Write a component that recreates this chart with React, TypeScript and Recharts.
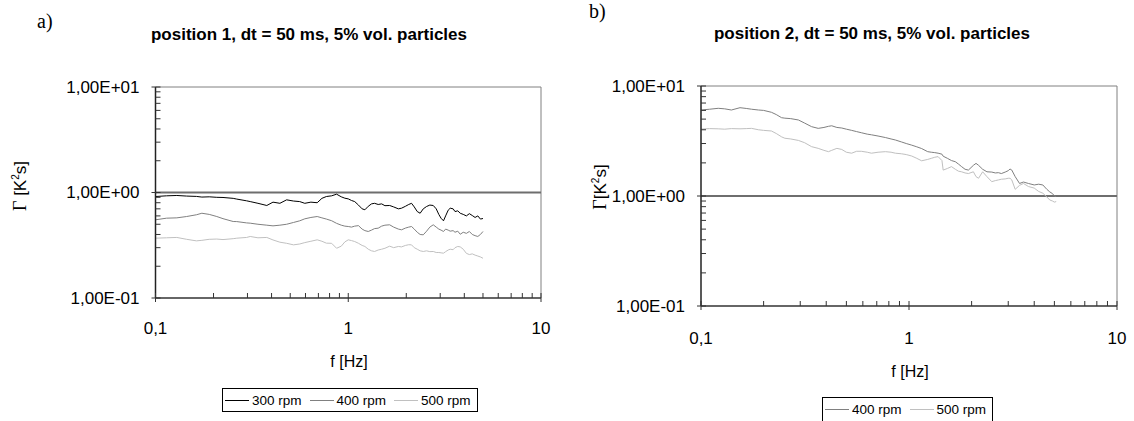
import React from 'react';
import { LineChart, Line, XAxis, YAxis, ReferenceLine } from 'recharts';

// tick values (log axes, decades 0.1..10)
const X_TICKS = [0.1, 0.2, 0.3, 0.4, 0.5, 0.6, 0.7, 0.8, 0.9, 1, 2, 3, 4, 5, 6, 7, 8, 9, 10];
const Y_TICKS = [0.1, 0.2, 0.3, 0.4, 0.5, 0.6, 0.7, 0.8, 0.9, 1, 2, 3, 4, 5, 6, 7, 8, 9, 10];
const X_MAJOR: Record<number, string> = { 0.1: '0,1', 1: '1', 10: '10' };
const Y_MAJOR: Record<number, string> = { 0.1: '1,00E-01', 1: '1,00E+00', 10: '1,00E+01' };

// a) position 1
const L_FREQ = [0.1, 0.114, 0.129, 0.145, 0.163, 0.174, 0.19, 0.208, 0.224, 0.253, 0.264, 0.297, 0.31, 0.34, 0.378, 0.407, 0.442, 0.479, 0.52, 0.56, 0.595, 0.64, 0.69, 0.73, 0.77, 0.82, 0.87, 0.92, 0.96, 1.0, 1.04, 1.08, 1.13, 1.18, 1.22, 1.27, 1.32, 1.37, 1.43, 1.49, 1.55, 1.64, 1.72, 1.82, 1.89, 1.98, 2.06, 2.13, 2.2, 2.28, 2.36, 2.45, 2.55, 2.65, 2.76, 2.86, 2.95, 3.03, 3.12, 3.2, 3.3, 3.38, 3.5, 3.58, 3.7, 3.81, 3.95, 4.1, 4.25, 4.4, 4.55, 4.7, 4.85, 5.0];
const L_300 = [0.916, 0.93, 0.937, 0.925, 0.918, 0.905, 0.91, 0.9, 0.897, 0.88, 0.866, 0.834, 0.82, 0.79, 0.753, 0.81, 0.79, 0.852, 0.83, 0.82, 0.79, 0.81, 0.8, 0.88, 0.916, 0.93, 0.964, 0.91, 0.883, 0.87, 0.84, 0.82, 0.76, 0.7, 0.686, 0.74, 0.78, 0.79, 0.77, 0.78, 0.75, 0.753, 0.73, 0.7, 0.71, 0.74, 0.77, 0.79, 0.73, 0.66, 0.636, 0.7, 0.737, 0.76, 0.753, 0.7, 0.62, 0.57, 0.539, 0.6, 0.68, 0.71, 0.7, 0.66, 0.67, 0.636, 0.62, 0.6, 0.63, 0.605, 0.58, 0.6, 0.56, 0.567];
const L_400 = [0.551, 0.571, 0.575, 0.592, 0.615, 0.636, 0.62, 0.592, 0.565, 0.531, 0.53, 0.515, 0.512, 0.5, 0.49, 0.483, 0.49, 0.5, 0.52, 0.539, 0.563, 0.58, 0.592, 0.575, 0.56, 0.54, 0.51, 0.49, 0.48, 0.476, 0.47, 0.48, 0.485, 0.45, 0.435, 0.427, 0.44, 0.455, 0.459, 0.48, 0.49, 0.494, 0.47, 0.45, 0.443, 0.46, 0.47, 0.476, 0.45, 0.42, 0.4, 0.397, 0.43, 0.47, 0.494, 0.47, 0.45, 0.44, 0.427, 0.45, 0.44, 0.43, 0.435, 0.42, 0.43, 0.402, 0.42, 0.41, 0.427, 0.4, 0.39, 0.383, 0.4, 0.427];
const L_500 = [0.369, 0.372, 0.375, 0.36, 0.348, 0.352, 0.36, 0.362, 0.358, 0.365, 0.369, 0.375, 0.383, 0.372, 0.375, 0.355, 0.338, 0.33, 0.319, 0.325, 0.335, 0.345, 0.356, 0.345, 0.331, 0.33, 0.296, 0.31, 0.34, 0.356, 0.35, 0.343, 0.33, 0.315, 0.308, 0.29, 0.28, 0.276, 0.285, 0.29, 0.296, 0.31, 0.3, 0.308, 0.305, 0.315, 0.32, 0.319, 0.3, 0.29, 0.28, 0.276, 0.28, 0.275, 0.276, 0.27, 0.27, 0.268, 0.266, 0.275, 0.285, 0.29, 0.287, 0.3, 0.308, 0.305, 0.29, 0.265, 0.258, 0.262, 0.255, 0.25, 0.245, 0.238];

// b) position 2
const R_FREQ = [0.1, 0.11, 0.121, 0.13, 0.14, 0.154, 0.165, 0.175, 0.189, 0.2, 0.218, 0.23, 0.244, 0.253, 0.27, 0.294, 0.315, 0.34, 0.366, 0.39, 0.41, 0.425, 0.45, 0.475, 0.5, 0.53, 0.56, 0.59, 0.63, 0.66, 0.71, 0.77, 0.82, 0.86, 0.92, 0.97, 1.03, 1.09, 1.15, 1.23, 1.28, 1.33, 1.38, 1.44, 1.46, 1.53, 1.6, 1.67, 1.73, 1.79, 1.86, 1.93, 2.04, 2.1, 2.16, 2.26, 2.37, 2.5, 2.6, 2.69, 2.78, 2.9, 3.0, 3.06, 3.12, 3.24, 3.4, 3.55, 3.75, 4.0, 4.2, 4.4, 4.6, 4.75, 4.9, 5.0, 5.1];
const R_400 = [6.05, 6.15, 6.27, 6.2, 6.05, 6.35, 6.25, 6.15, 6.05, 6.0, 5.77, 5.5, 5.15, 5.1, 5.05, 4.91, 4.6, 4.27, 4.12, 4.2, 4.3, 4.35, 4.2, 4.15, 4.05, 3.95, 3.85, 3.76, 3.65, 3.6, 3.51, 3.4, 3.3, 3.23, 3.1, 3.0, 2.9, 2.8, 2.7, 2.53, 2.5, 2.48, 2.45, 2.4, 2.3, 2.2, 2.1, 2.05, 1.95, 1.85, 1.75, 1.72, 1.9, 1.98, 1.9, 1.75, 1.66, 1.65, 1.62, 1.63, 1.6, 1.65, 1.7, 1.76, 1.72, 1.5, 1.3, 1.34, 1.3, 1.26, 1.28, 1.26, 1.15, 1.09, 1.05, 1.0, 0.99];
const R_500 = [4.06, 4.1, 4.08, 4.05, 4.1, 4.08, 4.1, 4.12, 4.0, 3.95, 3.9, 3.7, 3.45, 3.35, 3.3, 3.2, 3.05, 2.81, 2.71, 2.6, 2.53, 2.6, 2.71, 2.65, 2.5, 2.45, 2.55, 2.55, 2.5, 2.45, 2.5, 2.53, 2.5, 2.45, 2.42, 2.38, 2.31, 2.2, 2.09, 2.15, 2.2, 2.25, 2.28, 2.1, 1.72, 1.78, 1.85, 1.75, 1.68, 1.66, 1.62, 1.6, 1.66, 1.5, 1.45, 1.66, 1.5, 1.35, 1.38, 1.4, 1.42, 1.43, 1.45, 1.45, 1.4, 1.15, 1.25, 1.3, 1.22, 1.18, 1.1, 1.06, 0.98, 0.92, 0.9, 0.88, 0.89];

const C300 = '#000000';
const C400 = '#808080';
const C500 = '#c0c0c0';
const SANS = "'Liberation Sans', Arial, sans-serif";
const SERIF = "'Liberation Serif', 'Times New Roman', serif";

const leftData = L_FREQ.map((f, i) => ({ f, r300: L_300[i], r400: L_400[i], r500: L_500[i] }));
const rightData = R_FREQ.map((f, i) => ({ f, r400: R_400[i], r500: R_500[i] }));

const XTick = (props: any) => {
  const { x, y, payload, labelGap } = props;
  const v = payload.value;
  const lab = X_MAJOR[v];
  return (
    <g>
      <line x1={x} x2={x} y1={y - 5} y2={lab ? y + 4 : y} stroke="#333" strokeWidth={1} />
      {lab && (
        <text x={x} y={y + labelGap} dy="0.35em" textAnchor="middle" fontSize={17} fontFamily={SANS} fill="#000">
          {lab}
        </text>
      )}
    </g>
  );
};

const YTick = (props: any) => {
  const { x, y, payload } = props;
  const v = payload.value;
  const lab = Y_MAJOR[v];
  return (
    <g>
      <line x1={lab ? x - 4 : x} x2={x + 5} y1={y} y2={y} stroke="#333" strokeWidth={1} />
      {lab && (
        <text x={x - 16} y={y} dy="0.35em" textAnchor="end" fontSize={17} fontFamily={SANS} fill="#000">
          {lab}
        </text>
      )}
    </g>
  );
};

function Panel({ data, series, width, margin, labelGap }: any) {
  return (
    <LineChart width={width} height={421} data={data} margin={margin}>
      <ReferenceLine y={10} stroke="#808080" strokeWidth={1} />
      <ReferenceLine x={10} stroke="#808080" strokeWidth={1} />
      <ReferenceLine y={1} stroke="#6e6e6e" strokeWidth={2} />
      <XAxis
        dataKey="f" type="number" scale="log" domain={[0.1, 10]} allowDataOverflow
        ticks={X_TICKS} interval={0} height={30} tickSize={0} tickMargin={0}
        axisLine={{ stroke: '#333', strokeWidth: 1.5 }} tickLine={false}
        tick={<XTick labelGap={labelGap} />}
      />
      <YAxis
        type="number" scale="log" domain={[0.1, 10]} allowDataOverflow
        ticks={Y_TICKS} interval={0} width={100} tickSize={0} tickMargin={0}
        axisLine={{ stroke: '#222', strokeWidth: 1.5 }} tickLine={false}
        tick={<YTick />}
      />
      {series.map((s: any) => (
        <Line key={s.key} dataKey={s.key} stroke={s.color} strokeWidth={1} dot={false}
          type="linear" isAnimationActive={false} />
      ))}
    </LineChart>
  );
}

const abs = (left: number, top: number, extra: React.CSSProperties = {}): React.CSSProperties => ({
  position: 'absolute', left, top, ...extra,
});

function YLabel({ cx, cy, gap }: { cx: number; cy: number; gap: boolean }) {
  return (
    <div style={{
      position: 'absolute', left: cx, top: cy, transform: 'translate(-50%, -50%) rotate(-90deg)',
      whiteSpace: 'nowrap', fontSize: 18, lineHeight: 1,
    }}>
      <span style={{ fontFamily: SERIF }}>Γ</span>
      <span style={{ fontFamily: SANS, fontSize: 17 }}>{gap ? ' ' : ''}[K<sup style={{ fontSize: 10 }}>2</sup>s]</span>
    </div>
  );
}

function LegendBox({ left, top, height, items }: { left: number; top: number; height: number; items: { name: string; color: string }[] }) {
  return (
    <div style={{
      position: 'absolute', left, top, border: '1px solid #000', background: '#fff',
      display: 'flex', alignItems: 'flex-start', height, padding: '0 6px 0 2px', boxSizing: 'border-box',
      fontFamily: SANS, fontSize: 13.5, whiteSpace: 'nowrap',
    }}>
      {items.map((it, i) => (
        <div key={it.name} style={{ display: 'flex', alignItems: 'center', height: 22, marginLeft: i ? 8 : 0 }}>
          <div style={{ width: 24, height: 0, borderTop: `1px solid ${it.color}`, marginRight: 3 }} />
          <span>{it.name}</span>
        </div>
      ))}
    </div>
  );
}

export default function App() {
  return (
    <div style={{ position: 'fixed', left: 0, top: 0, width: 1134, height: 421, background: '#fff', overflow: 'hidden' }}>
      <div style={abs(0, 0)}>
        <Panel
          data={leftData}
          width={560}
          labelGap={30}
          margin={{ top: 87, right: 19, bottom: 93, left: 55.5 }}
          series={[{ key: 'r300', color: C300 }, { key: 'r400', color: C400 }, { key: 'r500', color: C500 }]}
        />
      </div>
      <div style={abs(560, 0)}>
        <Panel
          data={rightData}
          width={574}
          labelGap={32}
          margin={{ top: 86, right: 17, bottom: 85, left: 41 }}
          series={[{ key: 'r400', color: C400 }, { key: 'r500', color: C500 }]}
        />
      </div>

      <div style={abs(37, 11, { fontFamily: SERIF, fontSize: 20, lineHeight: 1 })}>a)</div>
      <div style={abs(589, 1, { fontFamily: SERIF, fontSize: 20, lineHeight: 1 })}>b)</div>

      <div style={abs(309, 35, { transform: 'translate(-50%, -50%)', fontFamily: SANS, fontWeight: 700, fontSize: 17, whiteSpace: 'nowrap' })}>
        position 1, dt = 50 ms, 5% vol. particles
      </div>
      <div style={abs(872, 34, { transform: 'translate(-50%, -50%)', fontFamily: SANS, fontWeight: 700, fontSize: 17, whiteSpace: 'nowrap' })}>
        position 2, dt = 50 ms, 5% vol. particles
      </div>

      <div style={abs(349, 362, { transform: 'translate(-50%, -50%)', fontFamily: SANS, fontSize: 16 })}>f [Hz]</div>
      <div style={abs(910, 372, { transform: 'translate(-50%, -50%)', fontFamily: SANS, fontSize: 16 })}>f [Hz]</div>

      <YLabel cx={20} cy={186} gap />
      <YLabel cx={600} cy={187} gap={false} />

      <LegendBox left={222} top={388} height={24} items={[{ name: '300 rpm', color: C300 }, { name: '400 rpm', color: C400 }, { name: '500 rpm', color: C500 }]} />
      <LegendBox left={822} top={397} height={32} items={[{ name: '400 rpm', color: C400 }, { name: '500 rpm', color: C500 }]} />
    </div>
  );
}
